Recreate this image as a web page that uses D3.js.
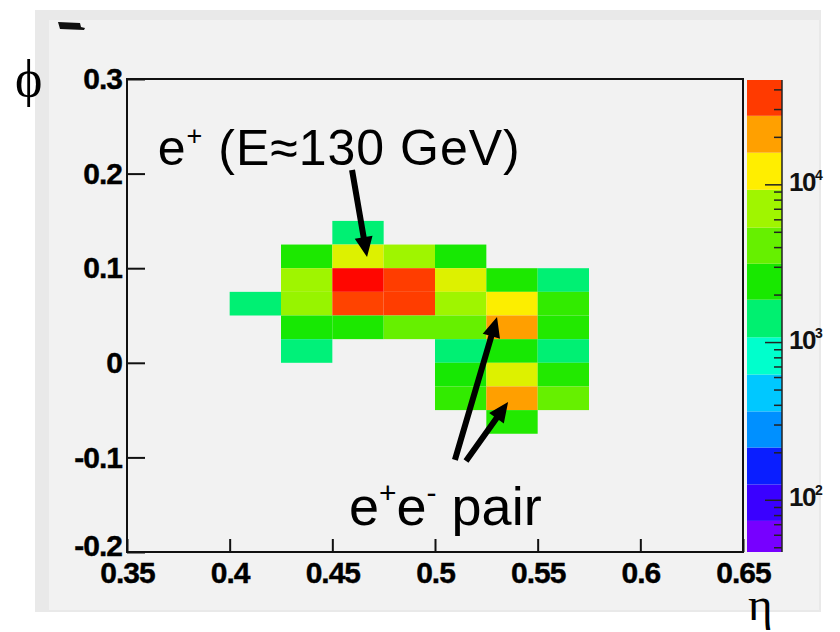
<!DOCTYPE html>
<html>
<head>
<meta charset="utf-8">
<script src="https://cdn.jsdelivr.net/npm/d3@7"></script>
<style>
  body { margin: 0; background: #fff; }
  text { font-family: "Liberation Sans", Arial, sans-serif; }
</style>
</head>
<body>
<div id="chart"></div>
<script>
// lower edges of the eta / phi bins (bin size 0.025 x 0.025)
const etaBins = [0.4, 0.425, 0.45, 0.475, 0.5, 0.525, 0.55];
const phiBins = [0.125, 0.1, 0.075, 0.05, 0.025, 0, -0.025, -0.05, -0.075];
const binSize = 0.025;

// energy deposit per cell, rows follow phiBins, columns follow etaBins (0 = empty)
const counts = [
  [0,    0,    1400,  0,     0,     0,     0],
  [0,    2500, 10000, 7000,  2400,  0,     0],
  [0,    7000, 45000, 35000, 10000, 2500,  1400],
  [1400, 6500, 34000, 35000, 7000,  12000, 2900],
  [0,    2400, 2500,  4100,  4100,  21000, 2600],
  [0,    1350, 0,     0,     1400,  2400,  1400],
  [0,    0,    0,     0,     2400,  10000, 2600],
  [0,    0,    0,     0,     2900,  21000, 4100],
  [0,    0,    0,     0,     0,     2600,  0]
];

// colour palette contour levels (bottom -> top) and band colours
const levels = [47, 74, 126, 216, 366, 627, 1080, 1870, 3160, 5350, 9300, 16000, 27400, 46200];
const bandColors = ["#7700ff", "#3a00ff", "#0a1eff", "#0090ff", "#00c8ff", "#00ffcc",
                    "#00f070", "#18e800", "#66f000", "#a0f500", "#ffee00", "#ffa000", "#ff3a00"];

const xTicks = [0.35, 0.4, 0.45, 0.5, 0.55, 0.6, 0.65];
const yTicks = [-0.2, -0.1, 0, 0.1, 0.2, 0.3];
const zLabels = [100, 1000, 10000];

const W = 840, H = 632;
const svg = d3.select("#chart").append("svg")
  .attr("width", W).attr("height", H);

// canvas background like the ROOT pad
svg.append("rect").attr("x", 35).attr("y", 10).attr("width", 786).attr("height", 602)
  .attr("fill", "#e9e9e9");
svg.append("rect").attr("x", 49).attr("y", 20).attr("width", 770).attr("height", 590)
  .attr("fill", "#f2f2f2");
// leftover of the title box
svg.append("path").attr("d", "M58,22 L80,23 L81,27 L85,28 L84,30 L60,29 Z").attr("fill", "#111");

const plot = {left: 127, right: 743, top: 79, bottom: 552};

const x = d3.scaleLinear().domain([0.35, 0.65]).range([plot.left, plot.right]);
const y = d3.scaleLinear().domain([-0.2, 0.3]).range([plot.bottom, plot.top]);

// colour of a cell: blend between band colours on a log scale
const mids = levels.slice(0, -1).map((d, i) => Math.sqrt(d * levels[i + 1]));
const cellColor = d3.scaleLog()
  .domain(mids.concat([levels[levels.length - 1]]))
  .range(bandColors.concat(["#ff0000"]))
  .clamp(true);

// cells
let cells = [];
counts.forEach((row, r) => row.forEach((v, c) => {
  if (v > 0) cells.push({eta: etaBins[c], phi: phiBins[r], v: v});
}));

svg.append("g").attr("class", "cells")
  .selectAll("rect").data(cells).enter().append("rect")
  .attr("x", d => x(d.eta))
  .attr("y", d => y(d.phi + binSize))
  .attr("width", d => x(d.eta + binSize) - x(d.eta))
  .attr("height", d => y(d.phi) - y(d.phi + binSize))
  .attr("fill", d => cellColor(d.v));

// axes
const xAxis = svg.append("g")
  .attr("transform", "translate(0," + plot.bottom + ")")
  .call(d3.axisBottom(x).tickValues(xTicks).tickSize(-13).tickSizeOuter(0)
          .tickPadding(10).tickFormat(d => String(d)));
const yAxis = svg.append("g")
  .attr("transform", "translate(" + plot.left + ",0)")
  .call(d3.axisLeft(y).tickValues(yTicks).tickSize(-18).tickSizeOuter(0)
          .tickPadding(5).tickFormat(d => String(d)));

[xAxis, yAxis].forEach(a => {
  a.select(".domain").remove();
  a.selectAll("line").attr("stroke", "#111").attr("stroke-width", 2);
  a.selectAll("text").attr("fill", "#000")
    .style("font-size", "30px").style("font-weight", "bold")
    .style("letter-spacing", "-1px")
    .attr("stroke", "#000").attr("stroke-width", 0.4);
});
// the lowest phi label sits a bit higher in the original
yAxis.selectAll(".tick text").filter(d => d === -0.2).attr("dy", "0.1em");

// frame
svg.append("rect")
  .attr("x", plot.left).attr("y", plot.top)
  .attr("width", plot.right - plot.left).attr("height", plot.bottom - plot.top)
  .attr("fill", "none").attr("stroke", "#111").attr("stroke-width", 2);

// colour bar
const bar = {left: 747, right: 782};
const z = d3.scaleLog().domain([levels[0], levels[levels.length - 1]])
  .range([plot.bottom, plot.top + 1]);

svg.append("g").attr("class", "colorbar")
  .selectAll("rect").data(bandColors).enter().append("rect")
  .attr("x", bar.left)
  .attr("width", bar.right - bar.left)
  .attr("y", (d, i) => z(levels[i + 1]))
  .attr("height", (d, i) => z(levels[i]) - z(levels[i + 1]))
  .attr("fill", d => d);

svg.append("line")
  .attr("x1", bar.right).attr("x2", bar.right)
  .attr("y1", z.range()[1]).attr("y2", z.range()[0])
  .attr("stroke", "#222").attr("stroke-width", 1.5);

const zTicks = z.ticks(30);
svg.append("g").selectAll("line").data(zTicks).enter().append("line")
  .attr("x1", bar.right)
  .attr("x2", d => bar.right - (zLabels.includes(d) ? 17 : 8))
  .attr("y1", d => z(d)).attr("y2", d => z(d))
  .attr("stroke", "#222").attr("stroke-width", 1.5);

const zl = svg.append("g").selectAll("text").data(zLabels).enter().append("text")
  .attr("x", 789).attr("y", d => z(d) + 6)
  .attr("fill", "#111")
  .style("font-size", "26px").style("font-weight", "bold").style("letter-spacing", "-1.5px");
zl.append("tspan").text("10");
zl.append("tspan").attr("dy", -11).style("font-size", "14px")
  .text(d => String(Math.round(Math.log10(d))));

// axis titles
svg.append("text").attr("x", 15).attr("y", 96)
  .style("font-family", "'Liberation Serif', 'DejaVu Serif', serif")
  .style("font-size", "52px").attr("fill", "#000").text("\u03D5");
svg.append("text").attr("x", 748).attr("y", 620)
  .style("font-family", "'Liberation Serif', 'DejaVu Serif', serif")
  .style("font-size", "47px").attr("fill", "#000").text("\u03B7");

// annotations (positions in eta / phi)
function arrow(x1, y1, x2, y2) {
  const dx = x2 - x1, dy = y2 - y1, L = Math.hypot(dx, dy);
  const ux = dx / L, uy = dy / L, nx = -uy, ny = ux;
  const head = 20, hw = 9, sw = 3;
  const bx = x2 - ux * head, by = y2 - uy * head;
  const p = [
    [x1 + nx * sw, y1 + ny * sw], [bx + nx * sw, by + ny * sw], [bx + nx * hw, by + ny * hw],
    [x2, y2], [bx - nx * hw, by - ny * hw], [bx - nx * sw, by - ny * sw], [x1 - nx * sw, y1 - ny * sw]
  ];
  return p.map(q => q.join(",")).join(" ");
}

const arrows = [
  [0.4596, 0.2038, 0.4669, 0.1118],
  [0.5097, -0.1027, 0.5302, 0.0484],
  [0.5151, -0.1038, 0.5356, -0.0414]
];
svg.append("g").selectAll("polygon").data(arrows).enter().append("polygon")
  .attr("points", d => arrow(x(d[0]), y(d[1]), x(d[2]), y(d[3])))
  .attr("fill", "#000");

const t1 = svg.append("text").attr("x", x(0.365)).attr("y", y(0.209))
  .style("font-size", "50px").style("letter-spacing", "1px").attr("fill", "#000");
t1.append("tspan").text("e");
t1.append("tspan").attr("dy", -20).style("font-size", "27px").text("+");
t1.append("tspan").attr("dy", 20).text(" (E\u2248130 GeV)");

const t2 = svg.append("text").attr("x", x(0.4581)).attr("y", y(-0.1715))
  .style("font-size", "54px").attr("fill", "#000");
t2.append("tspan").text("e");
t2.append("tspan").attr("dy", -22).style("font-size", "30px").text("+");
t2.append("tspan").attr("dy", 22).text("e");
t2.append("tspan").attr("dy", -22).style("font-size", "30px").text("-");
t2.append("tspan").attr("dy", 22).text(" pair");
</script>
</body>
</html>
